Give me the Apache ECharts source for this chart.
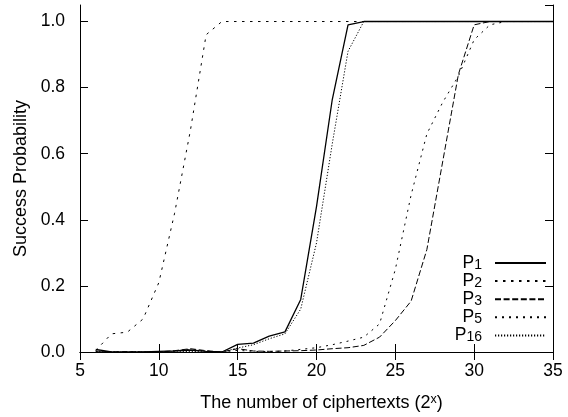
<!DOCTYPE html>
<html>
<head>
<meta charset="utf-8">
<script src="https://cdn.jsdelivr.net/npm/echarts@6/dist/echarts.min.js"></script>
<style>
  html, body { margin: 0; padding: 0; background: #fff; }
  #chart { width: 568px; height: 417px; }
</style>
</head>
<body>
<div id="chart"></div>
<script>
// log2 of the number of ciphertexts
var xs = [6, 7, 8, 9, 10, 11, 12, 13, 14, 15, 16, 17, 18, 19, 20,
          21, 22, 23, 24, 25, 26, 27, 28, 29, 30, 31, 32, 33, 34, 35];

// success probability per key pattern
var p1  = [0.008, 0, 0, 0, 0.002, 0.003, 0.006, 0.002, 0, 0.023, 0.027, 0.048, 0.061, 0.159, 0.44,
           0.764, 0.99, 1, 1, 1, 1, 1, 1, 1, 1, 1, 1, 1, 1, 1];
var p2  = [0.005, 0.055, 0.06, 0.10, 0.21, 0.42, 0.67, 0.96, 1, 1, 1, 1, 1, 1, 1,
           1, 1, 1, 1, 1, 1, 1, 1, 1, 1, 1, 1, 1, 1, 1];
var p3  = [0.003, 0, 0.001, 0, 0, 0.004, 0.01, 0.004, 0, 0.01, 0.003, 0.002, 0.003, 0.004, 0.006,
           0.01, 0.013, 0.02, 0.045, 0.095, 0.154, 0.31, 0.575, 0.84, 0.99, 1, 1, 1, 1, 1];
var p5  = [0.002, 0, 0, 0.001, 0, 0.003, 0.008, 0.003, 0, 0.005, 0.002, 0.001, 0.003, 0.008, 0.013,
           0.022, 0.033, 0.045, 0.085, 0.25, 0.475, 0.66, 0.755, 0.835, 0.945, 0.99, 1, 1, 1, 1];
var p16 = [0.003, 0, 0, 0, 0, 0, 0.002, 0, 0, 0.012, 0.022, 0.04, 0.055, 0.13, 0.33,
           0.63, 0.91, 1, 1, 1, 1, 1, 1, 1, 1, 1, 1, 1, 1, 1];

var seriesNames = ['P1', 'P2', 'P3', 'P5', 'P16'];
var seriesValues = [p1, p2, p3, p5, p16];
var dashes = ['solid', [2.5, 5.5], [6, 2.6], [2, 5], [1.2, 1.8]];
var widths = [1.3, 1, 1, 1, 1];

var FONT = "'Liberation Sans', Arial, Helvetica, sans-serif";

function pairs(vals) {
  return xs.map(function (x, i) { return [x, vals[i]]; });
}

var series = seriesNames.map(function (name, i) {
  return {
    name: name,
    type: 'line',
    xAxisIndex: 0,
    yAxisIndex: 0,
    data: pairs(seriesValues[i]),
    symbol: 'none',
    smooth: false,
    animation: false,
    itemStyle: { color: '#000' },
    lineStyle: { color: '#000', width: widths[i], type: dashes[i] }
  };
});

var tickStyle = { inside: true, length: 8, lineStyle: { color: '#000', width: 1 } };
var lineStyle = { lineStyle: { color: '#000', width: 1 } };

var chart = echarts.init(document.getElementById('chart'), null, { renderer: 'canvas' });
chart.setOption({
  animation: false,
  backgroundColor: '#fff',
  textStyle: { fontFamily: FONT, color: '#000' },
  grid: { left: 80, right: 15, top: 5, bottom: 64, containLabel: false },
  xAxis: [
    {
      type: 'value', position: 'bottom', min: 5, max: 35, interval: 5,
      axisLine: lineStyle, axisTick: tickStyle, splitLine: { show: false },
      axisLabel: { fontSize: 17.5, color: '#000', fontFamily: FONT, margin: 10 },
      name: '{a|The number of ciphertexts (2}{b|x}{c|)}',
      nameLocation: 'middle', nameGap: 41,
      nameTextStyle: {
        fontFamily: FONT, color: '#000',
        rich: {
          a: { fontSize: 18, lineHeight: 20, padding: [0, 0, 0, 10], fontFamily: FONT, color: '#000' },
          b: { fontSize: 12.5, lineHeight: 6, verticalAlign: 'top', fontFamily: FONT, color: '#000' },
          c: { fontSize: 18, lineHeight: 20, fontFamily: FONT, color: '#000' }
        }
      }
    },
    {
      type: 'value', position: 'top', min: 5, max: 35, interval: 5,
      axisLine: lineStyle, axisTick: tickStyle, splitLine: { show: false },
      axisLabel: { show: false }
    }
  ],
  yAxis: [
    {
      type: 'value', position: 'left', min: 0, max: 1.05, interval: 0.2,
      axisLine: lineStyle, axisTick: tickStyle, splitLine: { show: false },
      axisLabel: {
        fontSize: 17.5, color: '#000', fontFamily: FONT, margin: 15, showMaxLabel: false,
        formatter: function (v) { return v > 1.0001 ? '' : v.toFixed(1); }
      },
      name: 'Success Probability', nameLocation: 'middle', nameGap: 50,
      nameTextStyle: { fontSize: 18, fontFamily: FONT, color: '#000' }
    },
    {
      type: 'value', position: 'right', min: 0, max: 1.05, interval: 0.2,
      axisLine: lineStyle, axisTick: tickStyle, splitLine: { show: false },
      axisLabel: { show: false }
    }
  ],
  legend: {
    data: seriesNames,
    orient: 'vertical',
    align: 'right',
    right: 21,
    top: 254,
    padding: 0,
    itemWidth: 51,
    itemHeight: 18,
    itemGap: 0.1,
    selectedMode: false,
    itemStyle: { opacity: 0, borderWidth: 0 },
    formatter: function (name) { return '{p|P}{s|' + name.slice(1) + '}'; },
    textStyle: {
      fontFamily: FONT, color: '#000',
      rich: {
        p: { fontSize: 17.5, lineHeight: 18, fontFamily: FONT, color: '#000' },
        s: { fontSize: 14, lineHeight: 1, verticalAlign: 'bottom', padding: [0, 8, 0, 0], fontFamily: FONT, color: '#000' }
      }
    }
  },
  series: series
});
</script>
</body>
</html>
